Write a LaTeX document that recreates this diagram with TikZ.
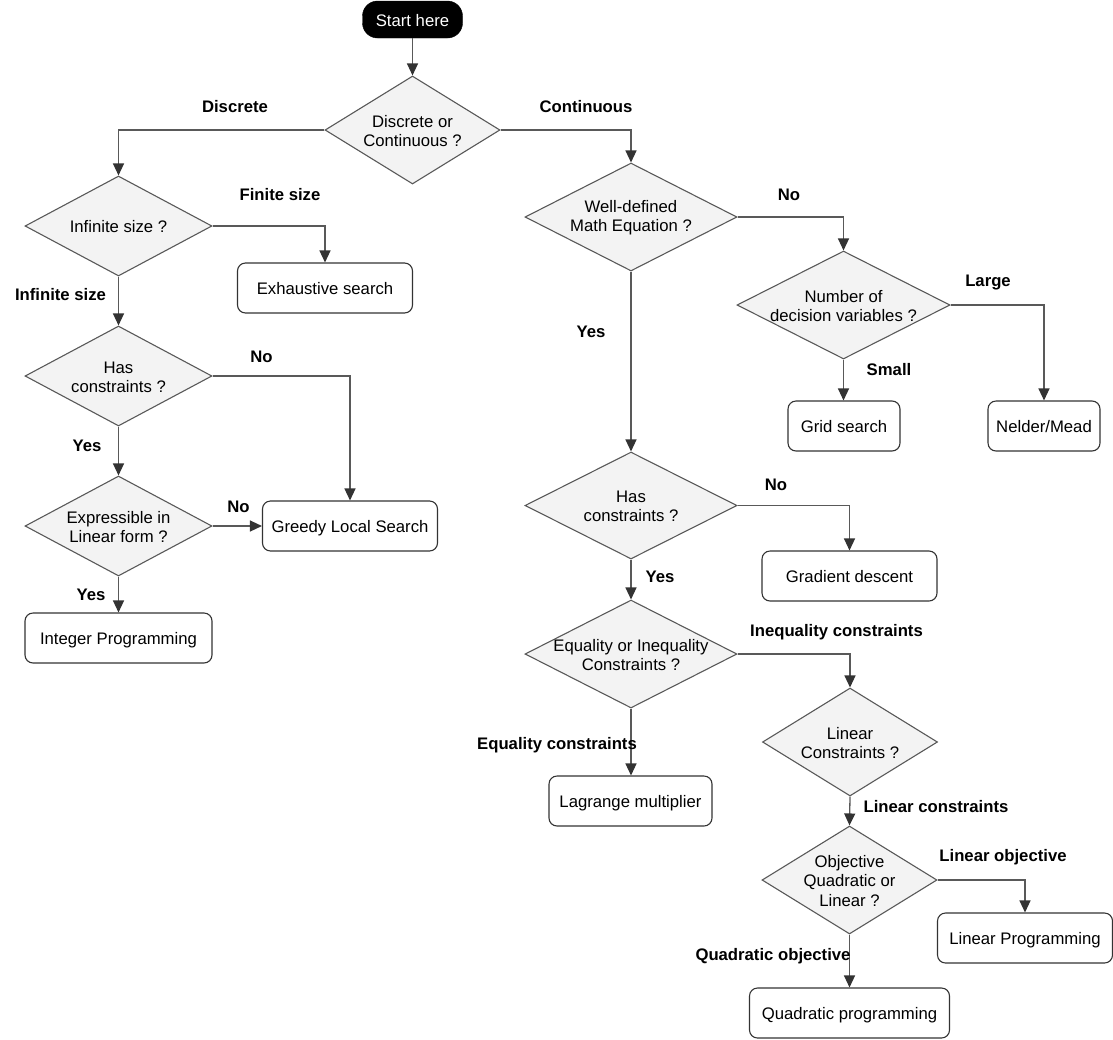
\documentclass[tikz,border=0pt]{standalone}
\usepackage{fontspec}
\setmainfont{Liberation Sans}
\usetikzlibrary{shapes.geometric,arrows.meta}
\definecolor{dfill}{HTML}{F3F3F3}
\definecolor{lcol}{HTML}{595959}
\definecolor{bcol}{HTML}{333333}
\begin{document}
\begin{tikzpicture}[x=1pt,y=-1pt,
  every node/.style={font=\fontsize{16.7}{19.3}\selectfont},
  every label/.style={yshift=-1pt},
  dia/.style={diamond, draw=lcol, fill=dfill, line width=1.1pt, inner sep=0pt},
  box/.style={rectangle, rounded corners=8pt, draw=bcol, line width=1.1pt, minimum height=50pt, align=center, text height=13pt, text depth=0pt},
  lab/.style={font=\fontsize{16.7}{19.3}\selectfont\bfseries},
  arr/.style={draw=lcol, line width=1.3pt, -{Triangle[length=12pt,width=11pt,color=bcol]}},
  ln/.style={draw=lcol, line width=1.3pt}
]
\useasboundingbox (0,0) rectangle (1113,1039);

% start
\node[rectangle, rounded corners=15pt, fill=black, draw=black, text=white, minimum width=100pt, minimum height=37pt, text height=13pt, text depth=0pt] (start) at (412.5,19.5) {Start here};

% diamonds
\node[dia, minimum width=175pt, minimum height=108pt, label={[align=center]center:Discrete or\\Continuous ?}] (d1) at (412.5,130) {};
\node[dia, minimum width=187pt, minimum height=100pt, label={[align=center]center:Infinite size ?}] (d2) at (118.5,226) {};
\node[dia, minimum width=187pt, minimum height=100pt, label={[align=center]center:Has\\constraints ?}] (d3) at (118.5,376) {};
\node[dia, minimum width=187pt, minimum height=100pt, label={[align=center]center:Expressible in\\Linear form ?}] (d4) at (118.5,526) {};
\node[dia, minimum width=212pt, minimum height=108pt, label={[align=center]center:Well-defined\\Math Equation ?}] (d5) at (631,217) {};
\node[dia, minimum width=213pt, minimum height=108pt, label={[align=center]center:Number of\\decision variables ?}] (d6) at (843.5,305) {};
\node[dia, minimum width=212pt, minimum height=107pt, label={[align=center]center:Has\\constraints ?}] (d7) at (631,505.5) {};
\node[dia, minimum width=212pt, minimum height=108pt, label={[align=center]center:Equality or Inequality\\Constraints ?}] (d8) at (631,654) {};
\node[dia, minimum width=175pt, minimum height=108pt, label={[align=center]center:Linear\\Constraints ?}] (d9) at (850,742) {};
\node[dia, minimum width=175pt, minimum height=108pt, label={[align=center]center:Objective\\Quadratic or\\Linear ?}] (d10) at (849.5,880) {};

% boxes
\node[box, minimum width=175pt] (exh) at (325,288) {Exhaustive search};
\node[box, minimum width=175pt] (greedy) at (350,526) {Greedy Local Search};
\node[box, minimum width=187pt] (ip) at (118.5,638) {Integer Programming};
\node[box, minimum width=112pt] (grid) at (844,426) {Grid search};
\node[box, minimum width=112pt] (nm) at (1044,426) {Nelder/Mead};
\node[box, minimum width=175pt] (gd) at (849.5,576) {Gradient descent};
\node[box, minimum width=163pt] (lag) at (630.5,801) {Lagrange multiplier};
\node[box, minimum width=175pt] (lp) at (1025,938) {Linear Programming};
\node[box, minimum width=200pt] (qp) at (849.5,1013) {Quadratic programming};

% connectors
\draw[arr] (start.south) -- (d1.north);
\draw[arr] (d1.west) -| (d2.north);
\draw[arr] (d2.east) -| (exh.north);
\draw[arr] (d2.south) -- (d3.north);
\draw[arr] (d3.east) -| (greedy.north);
\draw[arr] (d3.south) -- (d4.north);
\draw[arr] (d4.east) -- (greedy.west);
\draw[arr] (d4.south) -- (ip.north);
\draw[arr] (d1.east) -| (d5.north);
\draw[arr] (d5.east) -| (d6.north);
\draw[arr] (d6.east) -| (nm.north);
\draw[arr] (d6.south) -- (d6.south |- grid.north);
\draw[arr] (d5.south) -- (d7.north);
\draw[arr] (d7.east) -| (gd.north);
\draw[arr] (d7.south) -- (d8.north);
\draw[arr] (d8.east) -| (d9.north);
\draw[arr] (d8.south) -- (d8.south |- lag.north);
\draw[arr] (d9.south) -- (d10.north);
\draw[arr] (d10.east) -| (lp.north);
\draw[arr] (d10.south) -- (qp.north);

% labels
\node[lab] (lDiscrete) at (235,107) {Discrete};
\node[lab] (lContinuous) at (586,107) {Continuous};
\node[lab] (lFinite) at (280,195) {Finite size};
\node[lab] (lInfinite) at (60.5,295) {Infinite size};
\node[lab] (lNo1) at (261.5,357) {No};
\node[lab] (lYes1) at (87,445.5) {Yes};
\node[lab] (lNo2) at (238.5,507) {No};
\node[lab] (lYes2) at (91,595) {Yes};
\node[lab] (lNo3) at (789,195) {No};
\node[lab] (lYes3) at (591,332) {Yes};
\node[lab] (lLarge) at (988,283) {Large};
\node[lab] (lSmall) at (889,370) {Small};
\node[lab] (lNo4) at (776,485) {No};
\node[lab] (lYes4) at (660,577) {Yes};
\node[lab] (lIneq) at (836.5,632.5) {Inequality constraints};
\node[lab] (lEq) at (557,745.5) {Equality constraints};
\node[lab] (lLinC) at (936,807) {Linear constraints};
\node[lab] (lLinO) at (1003,857.5) {Linear objective};
\node[lab] (lQuadO) at (773,956.5) {Quadratic objective};
\end{tikzpicture}
\end{document}
